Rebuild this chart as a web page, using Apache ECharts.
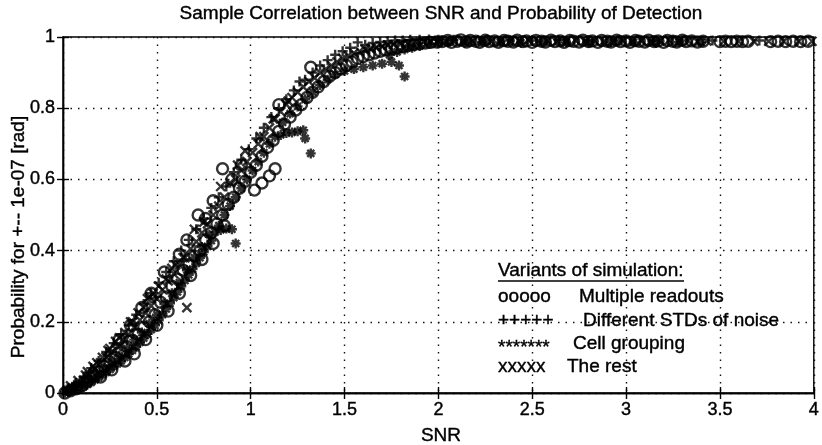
<!DOCTYPE html>
<html>
<head>
<meta charset="utf-8">
<script src="https://cdn.jsdelivr.net/npm/echarts@6/dist/echarts.min.js"></script>
<style>
  html, body { margin: 0; padding: 0; background: #fff; }
  #main { width: 822px; height: 445px; }
</style>
</head>
<body>
<div id="main"></div>
<script>
// values: [SNR, probability]
const multipleReadouts = [
  [0.01,0.0],[0.04,0.006],[0.07,0.012],[0.1,0.02],[0.13,0.033],[0.16,0.048],[0.19,0.06],[0.22,0.074],
  [0.25,0.088],[0.28,0.1],[0.31,0.115],[0.34,0.13],[0.37,0.148],[0.4,0.165],[0.43,0.185],[0.46,0.2],
  [0.49,0.22],[0.52,0.255],[0.54,0.34],[0.55,0.27],[0.58,0.3],[0.61,0.32],[0.64,0.345],[0.67,0.36],
  [0.7,0.385],[0.72,0.5],[0.73,0.4],[0.76,0.43],[0.79,0.45],[0.82,0.475],[0.85,0.63],[0.85,0.5],
  [0.88,0.53],[0.91,0.55],[0.94,0.575],[0.97,0.595],[1.0,0.62],[1.03,0.64],[1.06,0.665],[1.09,0.69],
  [1.12,0.71],[1.15,0.81],[1.15,0.735],[1.18,0.755],[1.21,0.775],[1.24,0.795],[1.27,0.81],[1.3,0.83],
  [1.32,0.915],[1.33,0.845],[1.36,0.86],[1.39,0.875],[1.42,0.89],[1.45,0.9],[1.48,0.91],[1.51,0.92],
  [1.54,0.93],[1.57,0.94],[1.6,0.945],[1.63,0.95],[1.66,0.955],[1.69,0.96],[1.72,0.963],[1.75,0.967],
  [1.78,0.97],[1.81,0.973],[1.84,0.976],[1.87,0.979],[1.9,0.981],[1.93,0.983],[1.96,0.985],[1.99,0.986],
  [0.3,0.15],[0.36,0.19],[0.42,0.24],[0.47,0.28],[0.62,0.39],[0.66,0.43],[0.76,0.49],[0.8,0.54],
  [0.9,0.6],[0.95,0.64],
  [0.2,0.045],[0.26,0.065],[0.33,0.09],[0.38,0.11],[0.44,0.15],[0.5,0.19],[0.56,0.23],[0.62,0.28],
  [0.68,0.33],[0.74,0.375],[0.8,0.42],[0.86,0.47],[1.02,0.57],[1.06,0.59],[1.1,0.61],[1.13,0.63],
  [2.02,0.987],[2.05,0.99],[2.07,0.985],[2.1,0.988],[2.12,0.992],[2.15,0.986],[2.17,0.99],[2.2,0.988],
  [2.22,0.985],[2.25,0.991],[2.27,0.987],[2.3,0.989],[2.32,0.985],[2.35,0.99],[2.37,0.988],[2.4,0.986],
  [2.42,0.991],[2.45,0.987],[2.47,0.989],[2.5,0.985],[2.52,0.99],[2.55,0.988],[2.57,0.986],[2.6,0.991],
  [2.62,0.987],[2.65,0.989],[2.67,0.985],[2.7,0.99],[2.72,0.988],[2.75,0.986],[2.77,0.991],[2.8,0.987],
  [2.82,0.989],[2.85,0.985],[2.87,0.99],[2.9,0.988],[2.92,0.986],[2.95,0.991],[2.97,0.987],[3.0,0.989],
  [3.02,0.985],[3.05,0.99],[3.07,0.988],[3.1,0.986],[3.12,0.991],[3.15,0.987],[3.17,0.989],[3.2,0.985],
  [3.22,0.99],[3.25,0.988],[3.27,0.986],[3.3,0.991],[3.32,0.987],[3.35,0.989],[3.38,0.986],[3.41,0.988],
  [3.5,0.987],[3.53,0.988],[3.56,0.987],[3.59,0.988],[3.62,0.987],[3.65,0.988],
  [3.77,0.987],[3.81,0.988],[3.85,0.987],[3.89,0.988],[3.93,0.987],[3.97,0.988]
];
const differentStds = [
  [0.03,0.012],[0.07,0.028],[0.11,0.045],[0.15,0.07],[0.19,0.09],[0.23,0.115],[0.27,0.14],[0.31,0.165],
  [0.35,0.19],[0.39,0.22],[0.43,0.25],[0.47,0.28],[0.51,0.31],[0.55,0.34],[0.59,0.37],[0.63,0.4],
  [0.67,0.43],[0.71,0.46],[0.75,0.49],[0.79,0.52],[0.83,0.55],[0.87,0.58],[0.91,0.62],[0.95,0.655],
  [0.99,0.685],[1.03,0.715],[1.07,0.745],[1.11,0.775],[1.15,0.8],[1.19,0.825],[1.23,0.85],[1.26,0.875],
  [1.29,0.88],[1.33,0.9],[1.37,0.92],[1.41,0.935],[1.45,0.95],[1.49,0.96],[1.53,0.97],[1.57,0.985],
  [1.61,0.978],[1.65,0.983],[1.69,0.986],[1.73,0.988],[1.77,0.99],[1.81,0.99],[1.85,0.992],[1.9,0.992],
  [1.95,0.993],[2.0,0.992],[2.08,0.992],[2.16,0.99],[2.26,0.992],[2.38,0.99],[2.5,0.99],[2.64,0.992],
  [2.8,0.99],[2.96,0.99],[3.14,0.99],[3.3,0.99],[3.46,0.99],[3.71,0.99]
];
const cellGrouping = [
  [0.01,0.002],[0.03,0.004],[0.05,0.007],[0.07,0.01],[0.09,0.014],[0.11,0.018],[0.13,0.024],[0.15,0.03],
  [0.17,0.037],[0.19,0.044],[0.21,0.051],[0.23,0.058],[0.25,0.066],[0.27,0.074],[0.29,0.082],[0.31,0.09],
  [0.33,0.1],[0.35,0.11],[0.37,0.12],[0.39,0.13],[0.41,0.142],[0.43,0.154],[0.45,0.166],[0.47,0.178],
  [0.49,0.19],[0.51,0.204],[0.53,0.22],[0.55,0.236],[0.57,0.252],[0.59,0.268],[0.61,0.284],[0.63,0.3],
  [0.65,0.316],[0.67,0.332],[0.69,0.348],[0.71,0.364],[0.73,0.38],[0.75,0.396],[0.77,0.412],[0.79,0.428],
  [0.78,0.445],[0.81,0.452],[0.84,0.458],[0.87,0.462],[0.9,0.46],[0.92,0.42],
  [0.83,0.47],[0.86,0.5],[0.89,0.525],[0.92,0.55],[0.95,0.575],[0.98,0.6],[1.01,0.625],[1.04,0.65],
  [1.07,0.675],[1.1,0.7],[1.13,0.72],
  [1.16,0.725],[1.19,0.73],[1.22,0.732],[1.25,0.735],[1.28,0.738],[1.29,0.715],[1.32,0.673],
  [1.17,0.76],[1.21,0.785],[1.25,0.805],[1.29,0.825],[1.33,0.845],[1.37,0.865],[1.41,0.88],
  [1.45,0.895],[1.5,0.905],[1.55,0.91],[1.6,0.915],[1.65,0.92],[1.7,0.925],[1.75,0.93],[1.79,0.92],
  [1.82,0.889],
  [1.74,0.95],[1.78,0.958],[1.82,0.965],[1.86,0.97],[1.9,0.975],[1.95,0.98],[2.0,0.982],
  [0.02,0.01],[0.06,0.018],[0.1,0.028],[0.14,0.04],[0.18,0.055],[0.22,0.07],[0.26,0.088],[0.3,0.105],
  [0.34,0.125],[0.38,0.15],[0.42,0.17],[0.46,0.195],[0.5,0.22],[0.54,0.25],[0.58,0.28],[0.62,0.31],
  [0.66,0.345],[0.7,0.38],[0.74,0.41],
  [2.05,0.985],[2.14,0.984],[2.23,0.986],[2.33,0.985],[2.44,0.984],[2.56,0.986],[2.68,0.985],[2.8,0.984],
  [2.92,0.986],[3.04,0.985],[3.16,0.984],[3.28,0.986],[3.4,0.985]
];
const theRest = [
  [0.02,0.006],[0.05,0.014],[0.08,0.024],[0.11,0.036],[0.14,0.05],[0.17,0.068],[0.2,0.085],[0.23,0.1],
  [0.26,0.115],[0.29,0.13],[0.32,0.15],[0.35,0.165],[0.38,0.185],[0.41,0.205],[0.44,0.225],[0.45,0.265],
  [0.47,0.245],[0.5,0.265],[0.53,0.29],[0.56,0.315],[0.59,0.335],[0.62,0.36],[0.65,0.38],[0.66,0.24],
  [0.68,0.405],[0.7,0.46],[0.71,0.425],[0.74,0.45],[0.77,0.475],[0.8,0.5],[0.83,0.525],[0.86,0.55],
  [0.89,0.59],[0.92,0.6],[0.95,0.625],[0.97,0.68],[0.98,0.65],[1.01,0.675],[1.04,0.7],[1.07,0.72],
  [1.1,0.745],[1.13,0.77],[1.16,0.79],[1.19,0.81],[1.22,0.83],[1.25,0.845],[1.28,0.86],[1.31,0.875],
  [1.34,0.885],[1.37,0.9],[1.4,0.91],[1.43,0.92],[1.46,0.93],[1.49,0.94],[1.52,0.948],[1.55,0.955],
  [1.58,0.96],[1.61,0.965],[1.64,0.968],[1.67,0.971],[1.7,0.974],[1.73,0.977],[1.76,0.979],[1.8,0.981],
  [1.84,0.983],[1.88,0.985],[1.92,0.987],[1.96,0.988],[2.0,0.989],
  [0.12,0.05],[0.18,0.085],[0.24,0.12],[0.3,0.155],[0.36,0.2],[0.4,0.225],[0.48,0.28],[0.55,0.32],
  [0.6,0.36],[0.64,0.38],[0.75,0.48],[0.84,0.58],[0.93,0.64],[1.05,0.72],[1.12,0.77],[1.2,0.82],
  [0.04,0.02],[0.08,0.035],[0.13,0.06],[0.16,0.075],[0.21,0.1],[0.25,0.125],[0.28,0.145],[0.33,0.17],
  [0.37,0.2],[0.43,0.24],[0.46,0.27],[0.51,0.3],[0.58,0.35],
  [2.04,0.988],[2.08,0.99],[2.13,0.987],[2.18,0.989],[2.23,0.991],[2.28,0.988],[2.33,0.99],[2.38,0.987],
  [2.43,0.989],[2.48,0.991],[2.53,0.988],[2.58,0.99],[2.63,0.987],[2.68,0.989],[2.73,0.991],[2.78,0.988],
  [2.83,0.99],[2.88,0.987],[2.93,0.989],[2.98,0.991],[3.03,0.988],[3.08,0.99],[3.13,0.987],[3.18,0.989],
  [3.23,0.991],[3.28,0.988],[3.33,0.99],[3.38,0.987],[3.43,0.989],[3.52,0.988],[3.6,0.988],[3.68,0.988],
  [3.76,0.988],[3.84,0.988],[3.92,0.988],[3.99,0.988]
];
const xTicks = [0, 0.5, 1, 1.5, 2, 2.5, 3, 3.5, 4];
const yTicks = [0, 0.2, 0.4, 0.6, 0.8, 1];

const FONT = '"Liberation Sans", Arial, sans-serif';
let chart = echarts.init(document.getElementById('main'));

function markerSeries(name, symbol, size, data) {
  return {
    name: name,
    type: 'scatter',
    symbol: symbol,
    symbolSize: size,
    itemStyle: { color: 'rgba(0,0,0,0)', borderColor: '#000', borderWidth: 2.4 },
    data: data
  };
}

function axisBase(pos, min, max, ticks, showLabel) {
  return {
    type: 'value',
    position: pos,
    min: min,
    max: max,
    interval: ticks[1] - ticks[0],
    axisLine: { show: true, lineStyle: { color: '#000', width: 1.4 } },
    axisTick: { show: true, inside: true, length: 6, lineStyle: { color: '#000', width: 1.4 } },
    axisLabel: { show: showLabel, color: '#000', fontSize: 18, fontFamily: FONT, margin: 8, textBorderColor: '#000', textBorderWidth: 0.4 },
    splitLine: showLabel ? { show: true, lineStyle: { color: '#111', type: [1.5, 6], width: 1.4 } } : { show: false }
  };
}

function label(text, x, y, align) {
  return { type: 'text', x: x, y: y, style: { text: text, fontSize: 19, fontFamily: FONT, fill: '#000', stroke: '#000', lineWidth: 0.4, textAlign: align || 'left', textVerticalAlign: 'middle' } };
}

let yName = label('Probability for +-- 1e-07 [rad]', 19, 237, 'center');
yName.rotation = Math.PI / 2;

let option = {
  backgroundColor: '#fff',
  animation: false,
  grid: { left: 63, right: 4, top: 37, bottom: 52, show: true, borderColor: '#000', borderWidth: 1.4 },
  xAxis: [axisBase('bottom', 0, 4, xTicks, true), axisBase('top', 0, 4, xTicks, false)],
  yAxis: [axisBase('left', 0, 1, yTicks, true), axisBase('right', 0, 1, yTicks, false)],
  series: [
    markerSeries('Multiple readouts', 'circle', 11, multipleReadouts),
    markerSeries('Different STDs of noise', 'path://M0,5L10,5M5,0L5,10', 10, differentStds),
    markerSeries('Cell grouping', 'path://M0,5L10,5M5,0L5,10M1.5,1.5L8.5,8.5M8.5,1.5L1.5,8.5', 10, cellGrouping),
    markerSeries('The rest', 'path://M0,0L10,10M10,0L0,10', 9, theRest)
  ],
  graphic: [
    label('Sample Correlation between SNR and Probability of Detection', 441, 14, 'center'),
    label('SNR', 441, 436, 'center'),
    yName,
    // legend made of plain text like the original
    label('Variants of simulation:', 498, 271),
    { type: 'line', shape: { x1: 498, y1: 281, x2: 684, y2: 281 }, style: { stroke: '#000', lineWidth: 1.4 } },
    label('ooooo', 498, 297),
    label('Multiple readouts', 579, 297),
    label('+++++', 498, 321),
    label('Different STDs of noise', 583, 321),
    label('*******', 498, 348),
    label('Cell grouping', 573, 344),
    label('xxxxx', 498, 367),
    label('The rest', 567, 367)
  ]
};

chart.setOption(option);
</script>
</body>
</html>
